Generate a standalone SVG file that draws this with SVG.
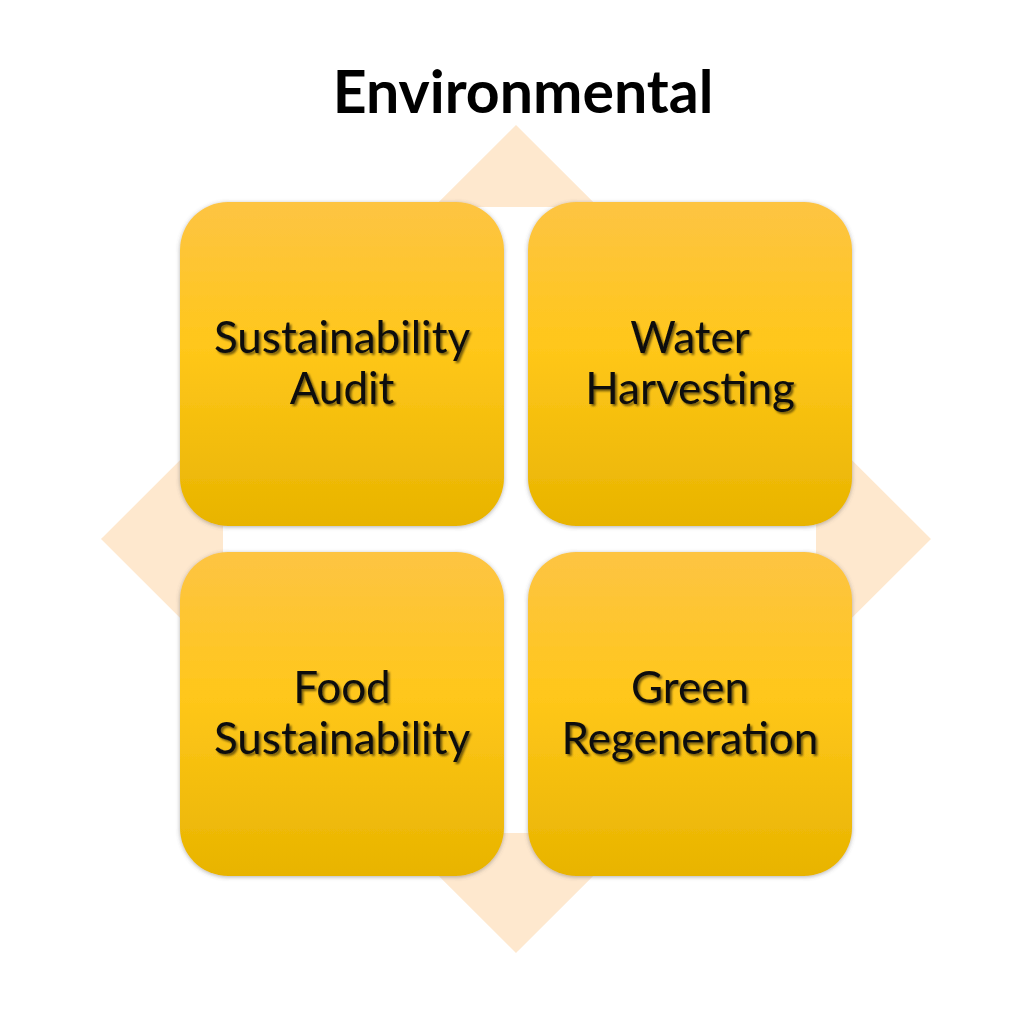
<svg xmlns="http://www.w3.org/2000/svg" width="1024" height="1024" viewBox="0 0 1024 1024">
  <defs>
    <linearGradient id="boxGrad" x1="0" y1="0" x2="0" y2="1">
      <stop offset="0" stop-color="#FDC443"/>
      <stop offset="0.45" stop-color="#FFC71A"/>
      <stop offset="1" stop-color="#E8B400"/>
    </linearGradient>
    <filter id="boxShadow" x="-10%" y="-10%" width="120%" height="120%">
      <feDropShadow dx="0" dy="1" stdDeviation="2" flood-color="#555" flood-opacity="0.45"/>
    </filter>
    <filter id="textShadow" x="-5%" y="-10%" width="110%" height="130%">
      <feDropShadow dx="2" dy="2" stdDeviation="1.2" flood-color="#000" flood-opacity="0.55"/>
    </filter>
    <style>
      .box { fill: url(#boxGrad); filter: url(#boxShadow); }
      .lbl { font-family: Lato, "Open Sans", "Liberation Sans", sans-serif; font-size: 44px; fill: #111; text-anchor: middle; filter: url(#textShadow); }
      .title { font-family: Lato, "Open Sans", "Liberation Sans", sans-serif; font-size: 59px; font-weight: bold; fill: #000; text-anchor: middle; }
    </style>
  </defs>
  <rect width="1024" height="1024" fill="#FFFFFF"/>
  <text class="title" x="523" y="113">Environmental</text>
  <g id="background">
    <path fill="#FEE8CE" fill-rule="evenodd" d="M516,125 L931,539 L516,953 L101,539 Z M243,207 L796,207 Q816,207 816,227 L816,813 Q816,833 796,833 L243,833 Q223,833 223,813 L223,227 Q223,207 243,207 Z"/>
  </g>
  <g id="connectors"></g>
  <g id="node-sustainability-audit">
    <rect class="box" x="180" y="202" width="324" height="324" rx="48"/>
    <text class="lbl" x="342" y="353">Sustainability</text>
    <text class="lbl" x="342" y="404">Audit</text>
  </g>
  <g id="node-water-harvesting">
    <rect class="box" x="528" y="202" width="324" height="324" rx="48"/>
    <text class="lbl" x="690" y="353">Water</text>
    <text class="lbl" x="690" y="404">Harvesting</text>
  </g>
  <g id="node-food-sustainability">
    <rect class="box" x="180" y="552" width="324" height="324" rx="48"/>
    <text class="lbl" x="342" y="703">Food</text>
    <text class="lbl" x="342" y="754">Sustainability</text>
  </g>
  <g id="node-green-regeneration">
    <rect class="box" x="528" y="552" width="324" height="324" rx="48"/>
    <text class="lbl" x="690" y="703">Green</text>
    <text class="lbl" x="690" y="754">Regeneration</text>
  </g>
</svg>
